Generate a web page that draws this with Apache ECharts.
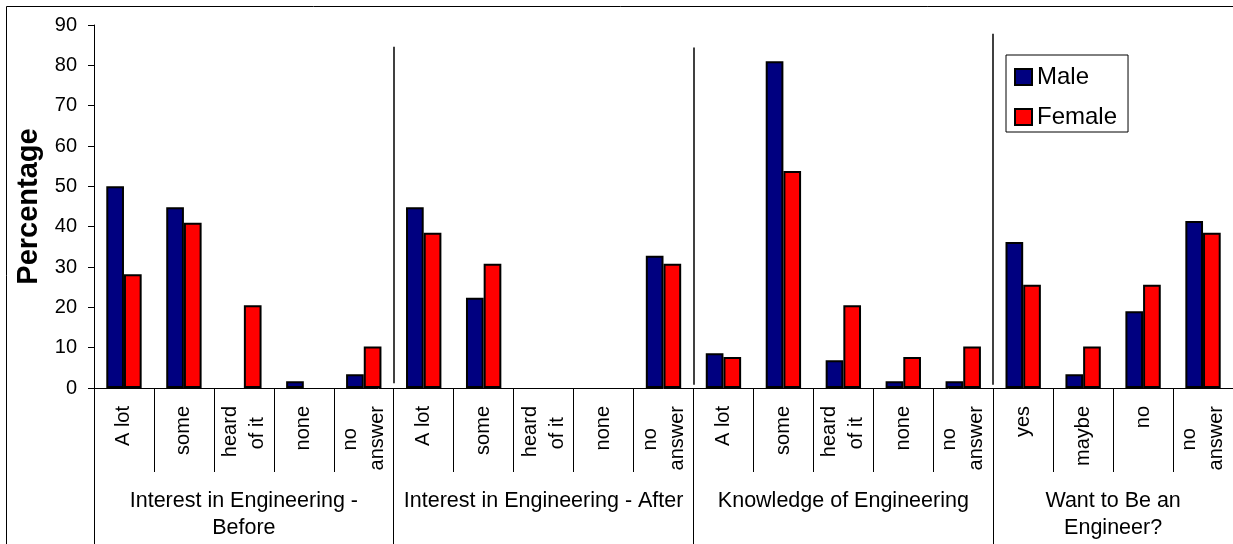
<!DOCTYPE html>
<html>
<head>
<meta charset="utf-8">
<style>
  html, body { margin: 0; padding: 0; background: #fff; }
  #chart { width: 1233px; height: 544px; }
</style>
<script src="https://cdn.jsdelivr.net/npm/echarts@6/dist/echarts.min.js"></script>
</head>
<body>
<div id="chart"></div>
<script>
// Survey answers, percentage of respondents by gender
const categories = [
  'A lot', 'some', 'heard\nof it', 'none', 'no\nanswer',
  'A lot', 'some', 'heard\nof it', 'none', 'no\nanswer',
  'A lot', 'some', 'heard\nof it', 'none', 'no\nanswer',
  'yes', 'maybe', 'no', 'no\nanswer'
];
const male = [50.0, 44.8, 0, 1.7, 3.4, 44.8, 22.4, 0, 0, 32.8, 8.6, 81.0, 6.9, 1.7, 1.7, 36.2, 3.4, 19.0, 41.4];
const female = [28.2, 41.0, 20.5, 0, 10.3, 38.5, 30.8, 0, 0, 30.8, 7.7, 53.8, 20.5, 7.7, 10.3, 25.6, 10.3, 25.6, 38.5];

// Question groups and the category index where each one starts / ends
const groups = [
  'Interest in Engineering -\nBefore',
  'Interest in Engineering - After',
  'Knowledge of Engineering',
  'Want to Be an\nEngineer?'
];
const groupBounds = [0, 5, 10, 15, 19];

// Vertical dividers inside the plot: category boundary and value extent
const dividerPos = [5, 10, 15];
const dividerFrom = [1.2, 0.8, 0.8];
const dividerTo = [84.6, 84.4, 87.8];

const yMin = 0, yMax = 90, yStep = 10;

const FONT = '"Liberation Sans", Arial, Helvetica, sans-serif';
const CAT_FONT_SIZE = 20;
const groupMids = groups.map((g, i) => (groupBounds[i] + groupBounds[i + 1]) / 2);

// Multi-line category labels: centre each line within its block by
// padding the shorter lines with no-break spaces on both sides.
const measureCtx = document.createElement('canvas').getContext('2d');
measureCtx.font = CAT_FONT_SIZE + 'px "Liberation Sans"';
const NBSP = '\u00A0';
const nbspWidth = measureCtx.measureText(NBSP).width || CAT_FONT_SIZE * 0.278;
function catLabel(v) {
  const lines = v.split('\n');
  if (lines.length === 1) return v;
  const widths = lines.map(s => measureCtx.measureText(s).width);
  const wMax = Math.max.apply(null, widths);
  return lines.map((s, i) => {
    const n = Math.round((wMax - widths[i]) / 2 / nbspWidth);
    return NBSP.repeat(n) + s + NBSP.repeat(n);
  }).join('\n');
}
const catLabelText = {};
categories.forEach(v => { if (!(v in catLabelText)) catLabelText[v] = catLabel(v); });

// Zero-height bars get no outline so they vanish into the axis
const barData = arr => arr.map(v => v === 0 ? { value: v, itemStyle: { borderWidth: 0 } } : v);

const chart = echarts.init(document.getElementById('chart'), null, { renderer: 'canvas' });

chart.setOption({
  animation: false,
  backgroundColor: '#fff',
  textStyle: { fontFamily: FONT, color: '#000' },
  graphic: [{
    type: 'rect',
    z: -10,
    silent: true,
    shape: { x: 6.5, y: 6.5, width: 1400, height: 700 },
    style: { fill: 'none', stroke: '#000', lineWidth: 1 }
  }],
  grid: { left: 94, right: 0, top: 25, bottom: 156, containLabel: false },
  legend: {
    data: ['Male', 'Female'],
    orient: 'vertical',
    left: 1006,
    top: 55,
    padding: [10, 11, 3, 8],
    itemGap: 16,
    itemWidth: 17,
    itemHeight: 16,
    borderColor: '#000',
    borderWidth: 1,
    backgroundColor: '#fff',
    icon: 'rect',
    textStyle: { fontFamily: FONT, fontSize: 24, lineHeight: 24, color: '#000' },
    itemStyle: { borderColor: '#000', borderWidth: 2 }
  },
  xAxis: [{
    type: 'category',
    data: categories,
    boundaryGap: true,
    axisLine: { show: true, lineStyle: { color: '#000', width: 1 } },
    axisTick: { show: true, interval: 0, length: 84, alignWithLabel: false, lineStyle: { color: '#000' } },
    axisLabel: {
      interval: 0,
      rotate: 90,
      margin: 18,
      color: '#000',
      fontFamily: FONT,
      fontSize: CAT_FONT_SIZE,
      lineHeight: 27,
      formatter: v => catLabelText[v]
    },
    splitLine: { show: false }
  }, {
    type: 'value',
    position: 'bottom',
    min: groupBounds[0],
    max: groupBounds[groupBounds.length - 1],
    axisLine: { show: false },
    splitLine: { show: false },
    axisTick: { show: true, customValues: groupBounds, length: 160, lineStyle: { color: '#000' } },
    axisLabel: {
      customValues: groupMids,
      margin: 100,
      color: '#000',
      fontFamily: FONT,
      fontSize: 21.5,
      lineHeight: 27,
      formatter: v => {
        const i = groupMids.indexOf(v);
        return i >= 0 ? groups[i] : '';
      }
    }
  }],
  yAxis: {
    type: 'value',
    min: yMin,
    max: yMax,
    interval: yStep,
    name: 'Percentage',
    nameLocation: 'middle',
    nameGap: 45,
    nameTextStyle: { fontFamily: FONT, fontSize: 29, fontWeight: 'bold', color: '#000' },
    axisLine: { show: true, lineStyle: { color: '#000', width: 1 } },
    axisTick: { show: true, length: 6, lineStyle: { color: '#000' } },
    axisLabel: { margin: 17, color: '#000', fontFamily: FONT, fontSize: 20 },
    splitLine: { show: false }
  },
  series: [{
    name: 'Male',
    type: 'bar',
    data: barData(male),
    barGap: '0%',
    barCategoryGap: '41%',
    itemStyle: { color: '#000080', borderColor: '#000', borderWidth: 2 }
  }, {
    name: 'Female',
    type: 'bar',
    data: barData(female),
    barGap: '0%',
    barCategoryGap: '41%',
    itemStyle: { color: '#ff0000', borderColor: '#000', borderWidth: 2 }
  }, {
    type: 'line',
    xAxisIndex: 1,
    data: [],
    silent: true,
    markLine: {
      silent: true,
      symbol: ['none', 'none'],
      label: { show: false },
      lineStyle: { color: '#000', width: 1.5, type: 'solid' },
      data: dividerPos.map((p, i) => [
        { coord: [p, dividerFrom[i]] },
        { coord: [p, dividerTo[i]] }
      ])
    }
  }]
});
</script>
</body>
</html>
